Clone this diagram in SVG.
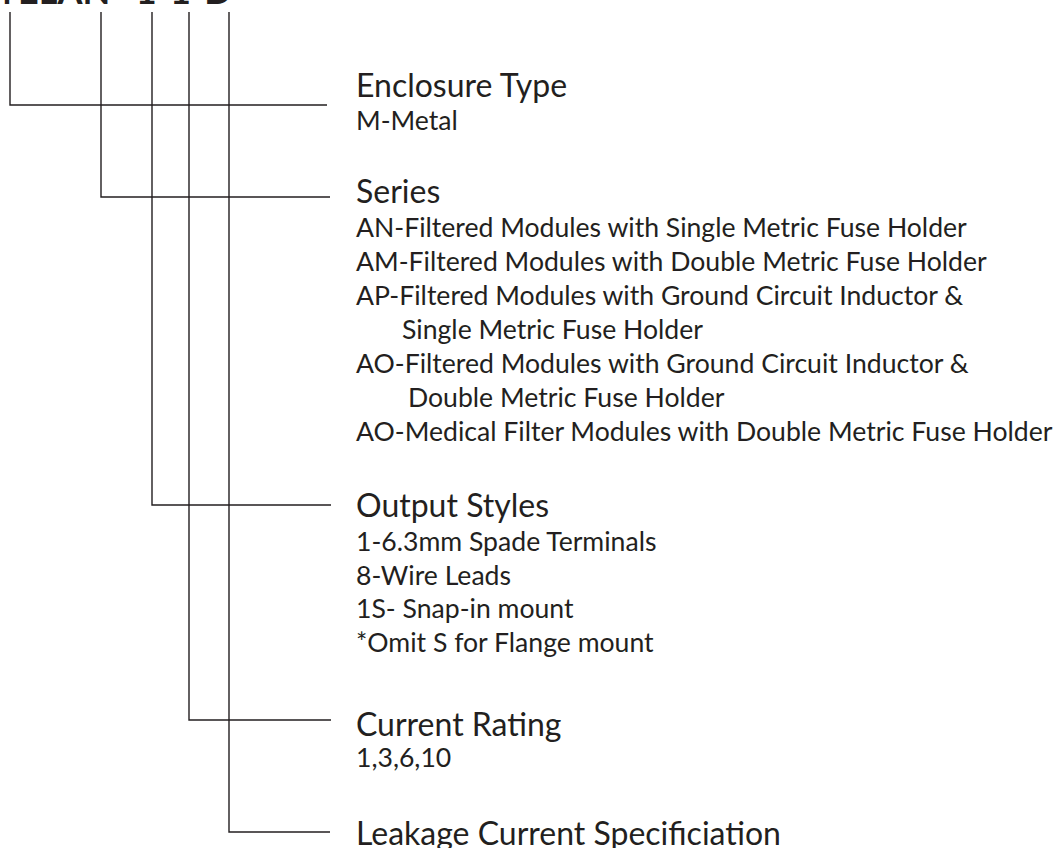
<svg xmlns="http://www.w3.org/2000/svg" width="1057" height="848" viewBox="0 0 1057 848">
<style>
.h{font-family:Lato,"Open Sans","Liberation Sans",sans-serif;font-size:32px;fill:#231f20}
.t{font-family:Lato,"Open Sans","Liberation Sans",sans-serif;font-size:26.6px;fill:#231f20}
.ttl{font-family:Lato,"Liberation Sans",sans-serif;font-size:36px;font-weight:bold;fill:#231f20}
.c{fill:none;stroke:#231f20;stroke-width:1.4}
</style>
<rect width="1057" height="848" fill="#fff"/>
<text class="ttl" x="-22" y="4" dx="0 6 0 0 0 12">MELAN-1-1-D</text>
<g id="connectors">
<path class="c" d="M10 12V105H327"/>
<path class="c" d="M101 12V197H330"/>
<path class="c" d="M152 12V505H331"/>
<path class="c" d="M189 12V720H331"/>
<path class="c" d="M229 12V832H330"/>
</g>
<g id="enclosure">
<text class="h" x="356" y="97">Enclosure Type</text>
<text class="t" x="356" y="130">M-Metal</text>
</g>
<g id="series">
<text class="h" x="356" y="203">Series</text>
<text class="t" x="356" y="236.5">AN-Filtered Modules with Single Metric Fuse Holder</text>
<text class="t" x="356" y="270.5">AM-Filtered Modules with Double Metric Fuse Holder</text>
<text class="t" x="356" y="304.5">AP-Filtered Modules with Ground Circuit Inductor &amp;</text>
<text class="t" x="402" y="338.5">Single Metric Fuse Holder</text>
<text class="t" x="356" y="372.5">AO-Filtered Modules with Ground Circuit Inductor &amp;</text>
<text class="t" x="408" y="406.5">Double Metric Fuse Holder</text>
<text class="t" x="356" y="440.5">AO-Medical Filter Modules with Double Metric Fuse Holder</text>
</g>
<g id="output">
<text class="h" x="356" y="517">Output Styles</text>
<text class="t" x="356" y="551">1-6.3mm Spade Terminals</text>
<text class="t" x="356" y="584.5">8-Wire Leads</text>
<text class="t" x="356" y="618">1S- Snap-in mount</text>
<text class="t" x="356" y="651.5">*Omit S for Flange mount</text>
</g>
<g id="current">
<text class="h" x="356" y="736">Current Rating</text>
<text class="t" x="356" y="767">1,3,6,10</text>
</g>
<g id="leakage">
<text class="h" x="356" y="845">Leakage Current Specificiation</text>
</g>
</svg>
